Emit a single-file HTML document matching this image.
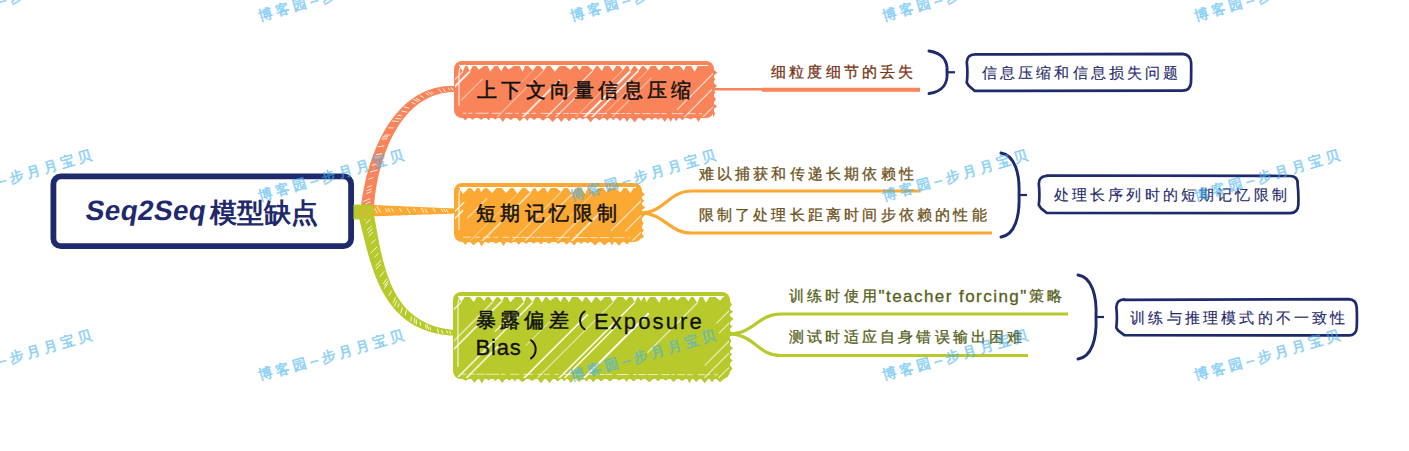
<!DOCTYPE html>
<html><head><meta charset="utf-8"><style>
html,body{margin:0;padding:0;background:#fff;width:1409px;height:451px;overflow:hidden}
#c{position:relative;width:1409px;height:451px;font-family:"Liberation Sans",sans-serif}
svg{position:absolute;left:0;top:0}
.t{position:absolute;white-space:nowrap;line-height:1.2}
.c{display:inline-block}
.wm text{font-size:14px;fill:#40b2f2;stroke:#40b2f2;stroke-width:0.55px;letter-spacing:3.8px}
</style></head><body><div id="c">
<svg width="1409" height="451" viewBox="0 0 1409 451">
<rect x="53.4" y="176.4" width="297.7" height="69.8" rx="7.5" fill="#fff" stroke="#1f2a6c" stroke-width="5.8"/>
<path d="M372.0,216.4 L373.4,216.4 L374.8,216.3 L376.2,216.3 L377.6,216.2 L378.9,216.2 L380.3,216.1 L381.7,216.1 L383.1,216.0 L384.4,216.0 L385.8,215.9 L387.1,215.9 L388.5,215.8 L389.9,215.8 L391.2,215.7 L392.6,215.7 L393.9,215.6 L395.3,215.6 L396.6,215.5 L398.0,215.5 L399.3,215.4 L400.7,215.4 L402.1,215.3 L403.4,215.3 L404.8,215.3 L406.1,215.2 L407.5,215.2 L408.9,215.1 L410.2,215.1 L411.6,215.0 L413.0,215.0 L414.4,214.9 L415.7,214.9 L417.1,214.8 L418.5,214.8 L419.9,214.7 L421.3,214.7 L422.7,214.6 L424.1,214.6 L425.5,214.6 L426.9,214.5 L428.4,214.5 L429.8,214.4 L431.2,214.4 L432.7,214.3 L434.1,214.3 L435.6,214.2 L437.1,214.2 L438.5,214.1 L440.0,214.1 L441.5,214.0 L443.0,214.0 L444.5,213.9 L446.1,213.9 L447.6,213.8 L449.1,213.8 L450.7,213.7 L452.2,213.7 L453.8,213.6 L455.4,213.6 L457.0,213.5 L457.0,208.5 L455.4,208.4 L453.8,208.4 L452.3,208.3 L450.7,208.3 L449.1,208.2 L447.6,208.2 L446.1,208.1 L444.6,208.1 L443.0,208.0 L441.5,207.9 L440.1,207.9 L438.6,207.8 L437.1,207.8 L435.6,207.7 L434.2,207.6 L432.7,207.6 L431.3,207.5 L429.8,207.5 L428.4,207.4 L427.0,207.3 L425.6,207.3 L424.1,207.2 L422.7,207.2 L421.3,207.1 L419.9,207.0 L418.6,207.0 L417.2,206.9 L415.8,206.8 L414.4,206.8 L413.0,206.7 L411.6,206.7 L410.3,206.6 L408.9,206.5 L407.5,206.5 L406.2,206.4 L404.8,206.4 L403.5,206.3 L402.1,206.2 L400.7,206.2 L399.4,206.1 L398.0,206.1 L396.7,206.0 L395.3,205.9 L394.0,205.9 L392.6,205.8 L391.3,205.7 L389.9,205.7 L388.5,205.6 L387.2,205.6 L385.8,205.5 L384.4,205.5 L383.1,205.4 L381.7,205.3 L380.3,205.3 L379.0,205.2 L377.6,205.2 L376.2,205.1 L374.8,205.1 L373.4,205.0 L372.0,205.0 Z" fill="#fba933"/><path d="M375.1,208.9 L377.3,212.8 M377.1,206.6 L380.3,212.1 M385.5,208.8 L387.4,212.1 M388.2,208.6 L390.1,211.9 M391.7,208.7 L393.5,211.9 M399.6,208.4 L401.4,211.5 M407.1,208.5 L409.8,213.1 M413.9,208.8 L415.4,211.4 M421.5,208.4 L423.7,212.2 M425.3,209.3 L427.1,212.4 M433.2,208.6 L435.1,211.9 M441.4,209.0 L442.9,211.7 M443.9,208.9 L445.4,211.5 M446.4,209.6 L447.9,212.1" stroke="#fff" stroke-width="1" fill="none" opacity="0.85" stroke-linecap="round"/>
<path d="M374.0,207.6 L374.1,205.3 L374.3,203.1 L374.5,200.7 L374.7,198.4 L375.0,196.0 L375.3,193.6 L375.7,191.1 L376.0,188.6 L376.5,186.1 L376.9,183.6 L377.4,181.0 L377.9,178.4 L378.5,175.8 L379.1,173.2 L379.8,170.6 L380.4,168.0 L381.2,165.3 L381.9,162.7 L382.8,160.1 L383.6,157.5 L384.5,154.9 L385.4,152.3 L386.4,149.7 L387.4,147.2 L388.5,144.6 L389.6,142.1 L390.8,139.6 L392.0,137.2 L393.2,134.8 L394.5,132.4 L395.9,130.1 L397.2,127.8 L398.7,125.5 L400.1,123.3 L401.7,121.2 L403.2,119.1 L404.9,117.1 L406.5,115.1 L408.2,113.2 L410.0,111.3 L411.8,109.5 L413.7,107.8 L415.6,106.2 L417.6,104.6 L419.6,103.1 L421.7,101.7 L423.8,100.4 L426.0,99.2 L428.2,98.0 L430.5,97.0 L432.8,96.0 L435.3,95.1 L437.7,94.4 L440.3,93.7 L442.9,93.1 L445.5,92.7 L448.3,92.3 L451.1,92.1 L453.9,92.0 L456.9,92.0 L457.1,86.0 L453.9,85.9 L450.8,85.9 L447.7,86.0 L444.7,86.3 L441.7,86.6 L438.8,87.2 L436.0,87.8 L433.2,88.5 L430.5,89.4 L427.8,90.3 L425.2,91.4 L422.6,92.6 L420.1,93.9 L417.6,95.2 L415.3,96.7 L412.9,98.3 L410.7,99.9 L408.5,101.6 L406.3,103.4 L404.2,105.3 L402.2,107.3 L400.2,109.3 L398.3,111.4 L396.4,113.6 L394.6,115.8 L392.8,118.0 L391.1,120.4 L389.5,122.7 L387.9,125.1 L386.3,127.6 L384.8,130.1 L383.4,132.6 L382.0,135.2 L380.6,137.8 L379.3,140.4 L378.1,143.1 L376.9,145.8 L375.7,148.4 L374.6,151.2 L373.6,153.9 L372.6,156.6 L371.6,159.3 L370.7,162.1 L369.8,164.8 L368.9,167.6 L368.1,170.3 L367.4,173.0 L366.6,175.7 L366.0,178.4 L365.3,181.1 L364.7,183.8 L364.2,186.4 L363.6,189.1 L363.2,191.7 L362.7,194.2 L362.3,196.7 L361.9,199.2 L361.6,201.7 L361.3,204.1 L361.0,206.4 Z" fill="#f9845a"/><path d="M365.7,203.9 L370.4,201.8 M363.2,201.6 L369.9,198.7 M366.8,193.4 L371.1,191.7 M367.0,190.7 L371.3,189.0 M367.6,187.2 L371.9,185.6 M368.7,179.1 L373.0,177.7 M370.4,172.0 L377.1,170.1 M372.5,165.2 L376.5,164.3 M374.1,157.8 L380.3,156.5 M376.4,154.7 L381.7,153.7 M378.2,146.7 L384.1,145.9 M382.0,139.1 L387.1,138.7 M382.7,137.0 L387.7,136.7 M384.8,135.2 L389.9,134.9 M388.7,127.8 L393.2,127.9 M392.6,121.0 L398.2,121.5 M395.7,118.4 L400.8,119.0 M397.9,115.3 L401.2,115.8 M401.8,111.0 L406.8,112.1 M404.3,106.9 L408.5,108.0 M411.7,102.5 L415.2,103.9 M413.7,99.6 L418.1,101.5 M416.1,98.5 L420.0,100.4 M420.5,95.8 L423.4,97.5 M425.9,93.0 L428.9,95.2 M427.9,91.8 L431.4,94.5 M431.1,91.9 L433.1,93.6 M438.6,89.1 L441.5,92.3 M443.1,88.7 L445.3,91.5 M448.2,87.9 L449.5,89.8 M451.1,87.4 L452.8,90.2" stroke="#fff" stroke-width="1" fill="none" opacity="0.85" stroke-linecap="round"/>
<path d="M358.4,215.6 L359.1,218.2 L359.7,220.8 L360.3,223.4 L361.0,226.0 L361.6,228.6 L362.2,231.3 L362.9,234.0 L363.6,236.6 L364.2,239.3 L364.9,242.0 L365.6,244.7 L366.3,247.4 L367.0,250.2 L367.8,252.9 L368.5,255.6 L369.3,258.3 L370.1,261.0 L371.0,263.6 L371.9,266.3 L372.8,269.0 L373.7,271.6 L374.7,274.2 L375.7,276.8 L376.8,279.4 L377.8,282.0 L379.0,284.5 L380.2,287.0 L381.4,289.4 L382.7,291.9 L384.0,294.2 L385.4,296.6 L386.9,298.9 L388.4,301.2 L390.0,303.4 L391.6,305.5 L393.3,307.6 L395.0,309.7 L396.9,311.7 L398.8,313.6 L400.8,315.5 L402.8,317.3 L404.9,319.0 L407.1,320.7 L409.4,322.3 L411.7,323.8 L414.1,325.2 L416.6,326.6 L419.2,327.8 L421.9,329.0 L424.6,330.1 L427.5,331.1 L430.4,332.0 L433.4,332.8 L436.5,333.5 L439.6,334.1 L442.9,334.7 L446.2,335.1 L449.7,335.4 L453.2,335.6 L456.8,335.7 L457.2,330.3 L453.6,330.0 L450.3,329.6 L447.0,329.1 L443.9,328.6 L440.9,327.9 L438.0,327.2 L435.2,326.4 L432.5,325.5 L429.8,324.5 L427.3,323.4 L424.9,322.3 L422.6,321.1 L420.3,319.8 L418.2,318.5 L416.1,317.1 L414.1,315.6 L412.2,314.1 L410.4,312.5 L408.6,310.9 L406.9,309.2 L405.3,307.4 L403.7,305.6 L402.2,303.7 L400.8,301.8 L399.4,299.8 L398.1,297.8 L396.8,295.7 L395.6,293.6 L394.4,291.5 L393.3,289.3 L392.2,287.0 L391.2,284.8 L390.2,282.4 L389.3,280.1 L388.4,277.7 L387.5,275.3 L386.7,272.8 L385.9,270.3 L385.1,267.8 L384.4,265.3 L383.7,262.8 L383.0,260.2 L382.4,257.6 L381.7,255.0 L381.1,252.3 L380.5,249.7 L380.0,247.0 L379.4,244.4 L378.9,241.7 L378.4,239.0 L377.9,236.4 L377.4,233.7 L376.9,231.0 L376.4,228.3 L376.0,225.6 L375.5,222.9 L375.0,220.3 L374.5,217.6 L374.1,215.0 L373.6,212.4 Z" fill="#b7c92b"/><path d="M368.9,215.9 L364.4,220.0 M372.5,217.3 L366.1,223.2 M371.3,226.3 L367.3,229.9 M372.3,229.0 L368.2,232.7 M372.9,232.3 L368.9,235.9 M375.2,239.8 L371.3,243.4 M376.8,247.1 L371.0,252.8 M378.1,253.6 L374.8,256.9 M380.9,260.5 L375.9,265.9 M380.6,264.3 L376.4,268.9 M384.3,271.3 L380.0,276.5 M386.7,279.0 L383.3,283.7 M387.8,281.1 L384.6,285.7 M387.7,283.7 L384.5,288.4 M391.5,291.0 L389.0,295.2 M395.6,297.3 L393.1,302.8 M396.8,300.8 L394.6,305.9 M399.2,303.8 L397.9,307.1 M402.3,307.8 L400.8,313.0 M406.3,310.4 L405.3,314.9 M411.3,317.0 L410.9,320.8 M414.5,317.9 L414.3,322.8 M416.3,319.7 L416.3,324.1 M420.3,322.0 L420.5,325.4 M425.7,324.6 L426.2,328.3 M427.5,325.1 L428.3,329.4 M430.0,327.3 L430.5,329.8 M437.4,329.0 L438.6,332.9 M441.6,330.3 L442.8,333.5 M446.7,331.0 L447.6,333.0 M449.5,331.0 L450.8,333.8" stroke="#fff" stroke-width="1" fill="none" opacity="0.85" stroke-linecap="round"/>
<rect x="353.5" y="204.6" width="19.5" height="14.8" fill="#b7c92b"/>
<path d="M358,214 L363,209 M362,216 L368,210 M366,217 L371,212" stroke="#fba933" stroke-width="1.3" opacity="0.8"/>
<clipPath id="clip1"><rect x="455" y="62" width="258" height="55" rx="8"/></clipPath>
<rect x="454" y="61" width="260" height="57" rx="8" fill="#f9845a"/>
<g clip-path="url(#clip1)" stroke="#fff" stroke-linecap="butt" fill="none">
<line x1="459" y1="65.5" x2="708" y2="65.5" stroke-width="1.2"/>
<path d="M459,106 L459,73 Q459,65 466,65" stroke-width="1.1" opacity="0.9"/>
<line x1="462.9" y1="71.6" x2="419.0" y2="115.5" stroke-width="1.5" opacity="0.60"/>
<line x1="469.9" y1="71.4" x2="401.5" y2="139.8" stroke-width="1.9" opacity="0.95"/>
<line x1="482.5" y1="79.0" x2="461.1" y2="100.3" stroke-width="1.3" opacity="0.45"/>
<line x1="532.8" y1="70.8" x2="512.6" y2="91.1" stroke-width="0.9" opacity="0.45"/>
<line x1="543.7" y1="70.4" x2="475.3" y2="138.8" stroke-width="1.2" opacity="0.45"/>
<line x1="560.0" y1="79.9" x2="501.7" y2="138.2" stroke-width="1.9" opacity="0.80"/>
<line x1="593.0" y1="70.6" x2="524.6" y2="139.0" stroke-width="1.2" opacity="0.80"/>
<line x1="589.9" y1="83.0" x2="533.5" y2="139.4" stroke-width="1.5" opacity="0.60"/>
<line x1="622.9" y1="69.9" x2="554.5" y2="138.3" stroke-width="0.9" opacity="0.60"/>
<line x1="630.3" y1="71.2" x2="561.9" y2="139.6" stroke-width="2.0" opacity="0.95"/>
<line x1="638.6" y1="70.5" x2="570.2" y2="138.9" stroke-width="1.6" opacity="0.95"/>
<line x1="647.9" y1="70.3" x2="579.5" y2="138.7" stroke-width="1.0" opacity="0.45"/>
<line x1="651.6" y1="77.7" x2="609.6" y2="119.7" stroke-width="1.2" opacity="0.45"/>
<line x1="714.0" y1="72.7" x2="677.0" y2="109.8" stroke-width="1.2" opacity="0.7"/>
<line x1="714.0" y1="87.3" x2="679.2" y2="122.2" stroke-width="1.2" opacity="0.7"/>
<line x1="714.0" y1="106.0" x2="680.6" y2="139.4" stroke-width="1.2" opacity="0.7"/>
</g>
<path fill="#fff" d="M459.0,65 L465.7,65 L462.9,71.6 Z M466.7,65 L473.3,65 L469.9,71.4 Z M475.3,65 L485.2,65 L478.8,69.7 Z M487.2,65 L495.4,65 L490.1,71.4 Z M497.4,65 L504.7,65 L501.2,71.5 Z M504.7,65 L515.2,65 L508.5,69.6 Z M519.2,65 L525.3,65 L522.6,71.7 Z M527.3,65 L536.9,65 L532.8,70.8 Z M538.9,65 L547.6,65 L543.7,70.4 Z M549.6,65 L560.4,65 L554.8,71.8 Z M564.4,65 L575.0,65 L570.1,69.8 Z M576.0,65 L582.6,65 L579.8,70.3 Z M586.6,65 L597.3,65 L593.0,70.6 Z M597.3,65 L604.8,65 L601.9,71.0 Z M608.8,65 L616.8,65 L612.8,71.6 Z M618.8,65 L626.9,65 L622.9,69.9 Z M627.9,65 L634.3,65 L630.3,71.2 Z M634.3,65 L642.9,65 L638.6,70.5 Z M642.9,65 L651.2,65 L647.9,70.3 Z M655.2,65 L664.2,65 L658.8,70.5 Z M668.2,65 L675.3,65 L671.1,69.5 Z M679.3,65 L686.5,65 L683.9,70.8 Z M690.5,65 L698.3,65 L694.8,71.8 Z"/>
<path d="M462,62.8 L706,62.8" stroke="#f9845a" stroke-width="3.6" fill="none"/>
<path d="M463,113.2 L702,113.7" stroke="#fff" stroke-width="0.9" stroke-dasharray="3.4 1.8 4.1 3.3 12.9 3.4 8.4 4.8 7.3 3.0 3.2 3.4 7.4 2.1 4.7 4.4 11.9 3.3 4.5 2.7 5.9 1.4 7.2 3.2 13.1 4.4 8.9 4.1 8.9 1.3 3.4 1.5 4.8 3.2 5.9 2.3 8.6 2.0 6.7 1.5 5.6 4.8 11.6 3.9 8.4 3.3 11.5 2.3 7.5 2.5 13.9 1.6 4.4 1.5 9.5 4.7 3.8 3.2 9.2 4.8" opacity="0.75"/>
<polygon fill="#f9845a" points="462.0,117.0 465.4,120.4 468.8,117.0 472.7,119.8 476.5,117.0 481.2,119.8 486.0,117.0 488.6,120.4 491.2,117.0 495.2,119.5 499.3,117.0 502.8,122.0 506.3,117.0 510.8,120.1 515.3,117.0 519.8,121.3 524.2,117.0 527.1,120.9 530.0,117.0 534.2,120.0 538.4,117.0 543.0,120.8 547.7,117.0 552.6,121.9 557.5,117.0 561.3,122.0 565.2,117.0 569.1,121.6 573.0,117.0 576.2,120.1 579.5,117.0 582.8,119.6 586.1,117.0 590.6,122.3 595.0,117.0 599.4,120.5 603.7,117.0 607.2,120.7 610.6,117.0 613.3,120.5 616.0,117.0 620.0,120.9 624.0,117.0 627.1,121.9 630.2,117.0 634.7,122.2 639.1,117.0 643.8,120.9 648.4,117.0 651.8,120.0 655.2,117.0 658.2,120.1 661.3,117.0 664.7,122.0 668.1,117.0 670.8,121.8 673.5,117.0 676.2,121.2 679.0,117.0 682.3,120.2 685.7,117.0 690.6,119.6 695.5,117.0 698.5,121.9 701.4,117.0"/>
<polygon fill="#f9845a" points="713.0,69.0 717.3,72.7 713.0,76.3 715.3,79.3 713.0,82.3 717.0,86.0 713.0,89.7 715.6,92.4 713.0,95.1 716.0,99.2 713.0,103.3 717.2,106.4 713.0,109.4 715.1,113.4 713.0,117.3"/>
<clipPath id="clip2"><rect x="455" y="184" width="186" height="57" rx="8"/></clipPath>
<rect x="454" y="183" width="188" height="59" rx="8" fill="#fba933"/>
<g clip-path="url(#clip2)" stroke="#fff" stroke-linecap="butt" fill="none">
<line x1="459" y1="187.5" x2="636" y2="187.5" stroke-width="1.2"/>
<path d="M459,230 L459,195 Q459,187 466,187" stroke-width="1.1" opacity="0.9"/>
<line x1="464.2" y1="202.2" x2="445.2" y2="221.1" stroke-width="1.2" opacity="0.95"/>
<line x1="463.2" y1="210.1" x2="429.6" y2="243.6" stroke-width="1.5" opacity="0.95"/>
<line x1="487.1" y1="198.4" x2="467.3" y2="218.2" stroke-width="1.6" opacity="0.45"/>
<line x1="517.4" y1="193.7" x2="446.6" y2="264.5" stroke-width="1.0" opacity="0.45"/>
<line x1="530.6" y1="192.6" x2="459.8" y2="263.4" stroke-width="1.8" opacity="0.60"/>
<line x1="561.1" y1="192.0" x2="490.3" y2="262.8" stroke-width="1.1" opacity="0.45"/>
<line x1="572.3" y1="193.8" x2="501.5" y2="264.6" stroke-width="1.3" opacity="0.60"/>
<line x1="591.8" y1="194.9" x2="570.1" y2="216.7" stroke-width="0.9" opacity="0.60"/>
<line x1="579.5" y1="219.2" x2="535.7" y2="263.0" stroke-width="1.7" opacity="0.45"/>
<line x1="603.8" y1="209.0" x2="549.6" y2="263.2" stroke-width="1.7" opacity="0.80"/>
<line x1="642.0" y1="199.9" x2="610.8" y2="231.1" stroke-width="1.2" opacity="0.7"/>
<line x1="642.0" y1="214.6" x2="625.2" y2="231.4" stroke-width="1.2" opacity="0.7"/>
<line x1="642.0" y1="231.2" x2="622.5" y2="250.7" stroke-width="1.2" opacity="0.7"/>
</g>
<path fill="#fff" d="M459.0,187 L469.8,187 L463.0,193.9 Z M469.8,187 L477.6,187 L474.4,191.9 Z M478.6,187 L485.8,187 L481.2,192.0 Z M485.8,187 L496.8,187 L492.3,193.1 Z M500.8,187 L511.6,187 L506.0,192.9 Z M512.6,187 L523.1,187 L517.4,193.7 Z M524.1,187 L534.6,187 L530.6,192.6 Z M534.6,187 L543.4,187 L537.8,192.1 Z M544.4,187 L551.3,187 L547.6,192.8 Z M555.3,187 L564.7,187 L561.1,192.0 Z M566.7,187 L576.3,187 L572.3,193.8 Z M580.3,187 L588.1,187 L585.3,194.0 Z M588.1,187 L598.9,187 L594.3,192.5 Z M602.9,187 L610.1,187 L606.5,192.2 Z M614.1,187 L624.3,187 L620.4,192.4 Z M626.3,187 L634.1,187 L630.3,193.3 Z"/>
<path d="M462,184.8 L634,184.8" stroke="#fba933" stroke-width="3.6" fill="none"/>
<path d="M463,237.2 L630,237.7" stroke="#fff" stroke-width="0.9" stroke-dasharray="7.9 4.5 4.4 3.3 7.3 3.1 4.6 4.8 5.9 3.4 7.6 1.1 9.1 1.6 3.6 1.1 4.8 1.4 10.0 3.0 13.8 4.7 13.9 1.9 7.9 2.0 9.5 3.5 11.8 3.8 5.8 2.7 8.8 1.0 3.4 2.6 4.2 3.9 5.6 1.4 5.0 1.9 5.4 3.1 8.1 2.2 10.1 1.8 13.0 4.9 11.0 2.7 8.6 3.3 3.6 2.7 8.8 1.7 4.0 4.2" opacity="0.75"/>
<polygon fill="#fba933" points="462.0,241.0 465.4,245.1 468.8,241.0 473.6,245.3 478.4,241.0 481.7,246.5 484.9,241.0 488.3,243.6 491.7,241.0 496.0,243.8 500.2,241.0 503.4,246.0 506.7,241.0 510.9,243.5 515.1,241.0 518.7,244.7 522.3,241.0 526.0,244.1 529.8,241.0 533.7,243.7 537.7,241.0 540.9,244.6 544.1,241.0 549.0,243.7 553.8,241.0 558.2,244.1 562.6,241.0 566.5,244.7 570.4,241.0 574.1,245.8 577.7,241.0 581.2,243.9 584.7,241.0 587.5,243.7 590.3,241.0 595.0,245.4 599.6,241.0 604.5,245.6 609.4,241.0 611.9,245.5 614.5,241.0 618.9,245.7 623.4,241.0 627.1,244.6 630.9,241.0"/>
<polygon fill="#fba933" points="641.0,191.0 645.0,194.4 641.0,197.8 644.3,200.9 641.0,203.9 645.4,207.4 641.0,210.8 645.3,214.9 641.0,219.0 643.7,223.2 641.0,227.4 644.2,230.3 641.0,233.3 644.1,236.3 641.0,239.3"/>
<clipPath id="clip3"><rect x="454" y="293" width="275" height="85" rx="8"/></clipPath>
<rect x="453" y="292" width="277" height="87" rx="8" fill="#b7c92b"/>
<g clip-path="url(#clip3)" stroke="#fff" stroke-linecap="butt" fill="none">
<line x1="458" y1="296.5" x2="724" y2="296.5" stroke-width="1.2"/>
<path d="M458,367 L458,304 Q458,296 465,296" stroke-width="1.1" opacity="0.9"/>
<line x1="461.3" y1="301.9" x2="402.1" y2="361.1" stroke-width="1.4" opacity="0.80"/>
<line x1="492.9" y1="301.9" x2="445.2" y2="349.6" stroke-width="1.6" opacity="0.60"/>
<line x1="502.1" y1="300.9" x2="397.7" y2="405.3" stroke-width="1.6" opacity="0.80"/>
<line x1="524.1" y1="302.5" x2="494.9" y2="331.7" stroke-width="1.2" opacity="0.95"/>
<line x1="532.8" y1="302.3" x2="428.4" y2="406.7" stroke-width="1.7" opacity="0.80"/>
<line x1="501.0" y1="343.4" x2="437.5" y2="406.9" stroke-width="1.7" opacity="0.80"/>
<line x1="558.9" y1="312.5" x2="525.7" y2="345.8" stroke-width="1.0" opacity="0.80"/>
<line x1="587.9" y1="314.3" x2="496.4" y2="405.7" stroke-width="1.6" opacity="0.95"/>
<line x1="613.1" y1="302.3" x2="508.7" y2="406.7" stroke-width="1.2" opacity="0.60"/>
<line x1="634.7" y1="302.5" x2="530.3" y2="406.9" stroke-width="1.5" opacity="0.95"/>
<line x1="616.0" y1="326.6" x2="536.6" y2="406.0" stroke-width="1.4" opacity="0.95"/>
<line x1="648.8" y1="313.3" x2="554.9" y2="407.1" stroke-width="2.0" opacity="0.95"/>
<line x1="697.4" y1="302.9" x2="647.5" y2="352.8" stroke-width="1.5" opacity="0.60"/>
<line x1="730.0" y1="309.8" x2="716.4" y2="323.4" stroke-width="1.2" opacity="0.7"/>
<line x1="730.0" y1="322.2" x2="718.9" y2="333.3" stroke-width="1.2" opacity="0.7"/>
<line x1="730.0" y1="340.2" x2="704.6" y2="365.6" stroke-width="1.2" opacity="0.7"/>
<line x1="730.0" y1="352.2" x2="693.5" y2="388.7" stroke-width="1.2" opacity="0.7"/>
<line x1="730.0" y1="366.5" x2="718.5" y2="378.0" stroke-width="1.2" opacity="0.7"/>
</g>
<path fill="#fff" d="M458.0,296 L465.2,296 L461.3,301.9 Z M469.2,296 L477.6,296 L473.6,302.0 Z M479.6,296 L486.9,296 L484.3,301.1 Z M488.9,296 L497.6,296 L492.9,301.9 Z M497.6,296 L504.7,296 L502.1,300.9 Z M506.7,296 L516.4,296 L510.3,302.2 Z M520.4,296 L526.6,296 L524.1,302.5 Z M527.6,296 L536.0,296 L532.8,302.3 Z M538.0,296 L546.0,296 L541.9,302.5 Z M546.0,296 L556.4,296 L550.0,300.7 Z M556.4,296 L563.7,296 L560.6,302.2 Z M564.7,296 L572.8,296 L568.9,302.6 Z M576.8,296 L585.7,296 L582.3,302.0 Z M585.7,296 L596.0,296 L591.4,303.0 Z M596.0,296 L605.5,296 L600.8,301.3 Z M609.5,296 L618.3,296 L613.1,302.3 Z M622.3,296 L629.7,296 L625.9,300.8 Z M631.7,296 L638.1,296 L634.7,302.5 Z M638.1,296 L644.2,296 L641.0,301.6 Z M644.2,296 L650.4,296 L646.5,302.0 Z M654.4,296 L662.1,296 L659.3,302.7 Z M666.1,296 L673.3,296 L668.6,300.6 Z M673.3,296 L682.2,296 L676.9,300.6 Z M684.2,296 L691.7,296 L688.4,301.2 Z M692.7,296 L700.3,296 L697.4,302.9 Z M702.3,296 L710.2,296 L705.9,302.7 Z M714.2,296 L723.6,296 L720.2,300.8 Z"/>
<path d="M461,293.8 L722,293.8" stroke="#b7c92b" stroke-width="3.6" fill="none"/>
<path d="M462,374.2 L718,374.7" stroke="#fff" stroke-width="0.9" stroke-dasharray="4.3 3.0 5.6 1.1 8.9 1.2 13.0 1.5 4.4 4.9 9.0 4.2 3.7 1.9 4.3 4.6 4.3 2.0 6.0 4.6 4.4 4.7 8.4 3.3 7.4 4.0 5.7 3.5 8.7 1.2 6.6 4.3 12.4 4.1 3.5 1.2 8.3 1.1 10.8 3.1 8.4 1.6 3.8 2.5 7.3 2.2 5.9 5.0 7.7 1.5 3.0 3.9 11.7 3.3 3.5 2.8 10.2 3.2 10.0 1.2" opacity="0.75"/>
<polygon fill="#b7c92b" points="461.0,378.0 465.7,380.7 470.4,378.0 474.5,382.8 478.6,378.0 481.9,383.4 485.1,378.0 488.7,380.6 492.2,378.0 495.3,381.3 498.3,378.0 502.3,382.9 506.3,378.0 509.3,380.9 512.4,378.0 515.0,381.5 517.5,378.0 522.5,382.2 527.4,378.0 532.1,380.9 536.7,378.0 541.0,383.3 545.2,378.0 549.5,383.0 553.8,378.0 557.7,381.6 561.5,378.0 564.3,381.5 567.0,378.0 570.9,382.9 574.7,378.0 579.0,381.9 583.3,378.0 586.4,381.7 589.5,378.0 593.3,382.2 597.1,378.0 601.2,381.6 605.4,378.0 609.9,381.5 614.5,378.0 619.1,380.6 623.8,378.0 626.5,381.9 629.3,378.0 633.6,381.4 637.8,378.0 641.1,380.8 644.3,378.0 649.3,382.2 654.3,378.0 658.1,381.2 661.9,378.0 665.8,380.8 669.7,378.0 673.6,382.2 677.5,378.0 682.1,381.0 686.8,378.0 689.5,383.5 692.2,378.0 696.3,381.9 700.4,378.0 704.7,383.3 708.9,378.0 712.1,382.3 715.2,378.0 720.1,382.2 724.9,378.0"/>
<polygon fill="#b7c92b" points="729.0,300.0 731.9,304.4 729.0,308.9 733.3,311.8 729.0,314.8 733.4,319.0 729.0,323.2 732.4,326.5 729.0,329.8 733.3,333.5 729.0,337.2 731.4,341.0 729.0,344.9 733.2,348.2 729.0,351.5 732.2,354.3 729.0,357.2 732.7,360.6 729.0,364.1 732.5,368.5 729.0,372.9"/>
<path d="M584.6,311.5 C578.6,316 578.6,325 584.6,329.3 M531,340.3 C537.2,345 537.2,354 531,358.4" stroke="#111" stroke-width="2" fill="none" stroke-linecap="round"/>
<path d="M712,89.3 L765,89.3" stroke="#f9845a" stroke-width="2.5"/>
<path d="M762,89.8 L920,89.8" stroke="#f9845a" stroke-width="4"/>
<path d="M640,213 C665,213 668,191 692,191 L920,191" stroke="#fba933" stroke-width="3.2" fill="none"/>
<path d="M640,213 C665,213 668,233 692,233 L992,233" stroke="#fba933" stroke-width="3.2" fill="none"/>
<path d="M728,334 C755,334 757,314 781,314 L1068,314" stroke="#b7c92b" stroke-width="3.2" fill="none"/>
<path d="M728,334 C755,334 757,355.5 781,355.5 L1028,355.5" stroke="#b7c92b" stroke-width="3.2" fill="none"/>
<path d="M929,51 C943,53 948,61.625 947,72.25 C948,82.875 943,91.5 929,93.5" stroke="#1f2a6c" stroke-width="2.9" fill="none" stroke-linecap="round"/><path d="M947,72.25 L955,72.25" stroke="#1f2a6c" stroke-width="2.2"/>
<path d="M1001,153 C1015,155 1020,174.0 1019,195.0 C1020,216.0 1015,235 1001,237" stroke="#1f2a6c" stroke-width="2.9" fill="none" stroke-linecap="round"/><path d="M1019,195.0 L1027,195.0" stroke="#1f2a6c" stroke-width="2.2"/>
<path d="M1078,275 C1092,277 1097,296.0 1096,317.0 C1097,338.0 1092,357 1078,359" stroke="#1f2a6c" stroke-width="2.9" fill="none" stroke-linecap="round"/><path d="M1096,317.0 L1104,317.0" stroke="#1f2a6c" stroke-width="2.2"/>
<path d="M974.8,54.4 L1182.5,53.9 C1187.5,54.3 1190.5,57.3 1191.1,62.3 Q1191.3,72.5 1191.0,82.7 C1190.5,87.7 1187.5,90.7 1182.5,90.7 L974.8,90.9 L968.8,85.7 L966.8,82.7 Q968.0,72.5 966.8,62.3 C966.8,57.3 969.8,54.3 974.8,54.3 Z" fill="#fff" stroke="#1f2a6c" stroke-width="2.7" stroke-linejoin="round"/>
<path d="M1046.8,175.5 L1290,176.0 C1295,175.9 1298,178.9 1297.6,183.9 Q1298.8,194.5 1298.3,205.1 C1298,210.1 1295,213.1 1290,213.2 L1046.8,213.0 L1040.8,208.1 L1038.8,205.1 Q1040.0,194.5 1038.8,183.9 C1038.8,178.9 1041.8,175.9 1046.8,175.9 Z" fill="#fff" stroke="#1f2a6c" stroke-width="2.7" stroke-linejoin="round"/>
<path d="M1124.3,299.9 L1348.4,299.2 C1353.4,299.3 1356.4,302.3 1356.7,307.3 Q1357.2,317.5 1356.7,327.7 C1356.4,332.7 1353.4,335.7 1348.4,335.4 L1124.3,335.2 L1118.3,330.7 L1116.3,327.7 Q1117.5,317.5 1116.3,307.3 C1116.3,302.3 1119.3,299.3 1124.3,299.3 Z" fill="#fff" stroke="#1f2a6c" stroke-width="2.7" stroke-linejoin="round"/>
</svg>
<div class="t" style="left:86px;top:194px;font-size:27px;color:#1f2a6c;font-weight:bold"><span style="display:inline-block;transform:skewX(-9deg);letter-spacing:0.3px;font-size:28px">Seq2Seq</span></div>
<div class="t" style="left:209.5px;top:196.5px;font-size:27px;color:#1f2a6c;font-weight:bold;"><span class="c" style="width:27.00px">模</span><span class="c" style="width:27.00px">型</span><span class="c" style="width:27.00px">缺</span><span class="c" style="width:27.00px">点</span></div>
<div class="t" style="left:477px;top:78px;font-size:20px;color:#111;-webkit-text-stroke:0.5px #111"><span class="c" style="width:24.30px">上</span><span class="c" style="width:24.30px">下</span><span class="c" style="width:24.30px">文</span><span class="c" style="width:24.30px">向</span><span class="c" style="width:24.30px">量</span><span class="c" style="width:24.30px">信</span><span class="c" style="width:24.30px">息</span><span class="c" style="width:24.30px">压</span><span class="c" style="width:24.30px">缩</span></div>
<div class="t" style="left:476px;top:201px;font-size:20px;color:#111;-webkit-text-stroke:0.5px #111"><span class="c" style="width:24.30px">短</span><span class="c" style="width:24.30px">期</span><span class="c" style="width:24.30px">记</span><span class="c" style="width:24.30px">忆</span><span class="c" style="width:24.30px">限</span><span class="c" style="width:24.30px">制</span></div>
<div class="t" style="left:476px;top:308px;font-size:20px;color:#111;-webkit-text-stroke:0.5px #111"><span class="c" style="width:24.20px">暴</span><span class="c" style="width:24.20px">露</span><span class="c" style="width:24.20px">偏</span><span class="c" style="width:24.20px">差</span></div>
<div class="t" style="left:594px;top:308.5px;font-size:22px;color:#111;letter-spacing:2.1px;-webkit-text-stroke:0.3px #111">Exposure</div>
<div class="t" style="left:475.5px;top:334.5px;font-size:22px;color:#111;letter-spacing:0.8px;-webkit-text-stroke:0.3px #111">Bias</div>
<div class="t" style="left:771px;top:63px;font-size:15px;color:#7a3314;-webkit-text-stroke:0.3px #7a3314"><span class="c" style="width:18.20px">细</span><span class="c" style="width:18.20px">粒</span><span class="c" style="width:18.20px">度</span><span class="c" style="width:18.20px">细</span><span class="c" style="width:18.20px">节</span><span class="c" style="width:18.20px">的</span><span class="c" style="width:18.20px">丢</span><span class="c" style="width:18.20px">失</span></div>
<div class="t" style="left:698.7px;top:164.5px;font-size:15px;color:#6e5220;-webkit-text-stroke:0.3px #6e5220"><span class="c" style="width:18.20px">难</span><span class="c" style="width:18.20px">以</span><span class="c" style="width:18.20px">捕</span><span class="c" style="width:18.20px">获</span><span class="c" style="width:18.20px">和</span><span class="c" style="width:18.20px">传</span><span class="c" style="width:18.20px">递</span><span class="c" style="width:18.20px">长</span><span class="c" style="width:18.20px">期</span><span class="c" style="width:18.20px">依</span><span class="c" style="width:18.20px">赖</span><span class="c" style="width:18.20px">性</span></div>
<div class="t" style="left:698.7px;top:206px;font-size:15px;color:#6e5220;-webkit-text-stroke:0.3px #6e5220"><span class="c" style="width:18.20px">限</span><span class="c" style="width:18.20px">制</span><span class="c" style="width:18.20px">了</span><span class="c" style="width:18.20px">处</span><span class="c" style="width:18.20px">理</span><span class="c" style="width:18.20px">长</span><span class="c" style="width:18.20px">距</span><span class="c" style="width:18.20px">离</span><span class="c" style="width:18.20px">时</span><span class="c" style="width:18.20px">间</span><span class="c" style="width:18.20px">步</span><span class="c" style="width:18.20px">依</span><span class="c" style="width:18.20px">赖</span><span class="c" style="width:18.20px">的</span><span class="c" style="width:18.20px">性</span><span class="c" style="width:18.20px">能</span></div>
<div class="t" style="left:789px;top:286.5px;font-size:15px;color:#56601a;-webkit-text-stroke:0.3px #56601a"><span class="c" style="width:18.20px">训</span><span class="c" style="width:18.20px">练</span><span class="c" style="width:18.20px">时</span><span class="c" style="width:18.20px">使</span><span class="c" style="width:18.20px">用</span></div>
<div class="t" style="left:878.5px;top:287px;font-size:17px;color:#56601a;letter-spacing:1.45px;-webkit-text-stroke:0.3px #56601a">"teacher forcing"</div>
<div class="t" style="left:1028.5px;top:286.5px;font-size:15px;color:#56601a;-webkit-text-stroke:0.3px #56601a"><span class="c" style="width:18.20px">策</span><span class="c" style="width:18.20px">略</span></div>
<div class="t" style="left:789px;top:328px;font-size:15px;color:#56601a;-webkit-text-stroke:0.3px #56601a"><span class="c" style="width:18.20px">测</span><span class="c" style="width:18.20px">试</span><span class="c" style="width:18.20px">时</span><span class="c" style="width:18.20px">适</span><span class="c" style="width:18.20px">应</span><span class="c" style="width:18.20px">自</span><span class="c" style="width:18.20px">身</span><span class="c" style="width:18.20px">错</span><span class="c" style="width:18.20px">误</span><span class="c" style="width:18.20px">输</span><span class="c" style="width:18.20px">出</span><span class="c" style="width:18.20px">困</span><span class="c" style="width:18.20px">难</span></div>
<div class="t" style="left:981.6px;top:64px;font-size:15px;color:#1f2a6c;-webkit-text-stroke:0.15px #1f2a6c"><span class="c" style="width:18.20px">信</span><span class="c" style="width:18.20px">息</span><span class="c" style="width:18.20px">压</span><span class="c" style="width:18.20px">缩</span><span class="c" style="width:18.20px">和</span><span class="c" style="width:18.20px">信</span><span class="c" style="width:18.20px">息</span><span class="c" style="width:18.20px">损</span><span class="c" style="width:18.20px">失</span><span class="c" style="width:18.20px">问</span><span class="c" style="width:18.20px">题</span></div>
<div class="t" style="left:1053.6px;top:186px;font-size:15px;color:#1f2a6c;-webkit-text-stroke:0.15px #1f2a6c"><span class="c" style="width:18.20px">处</span><span class="c" style="width:18.20px">理</span><span class="c" style="width:18.20px">长</span><span class="c" style="width:18.20px">序</span><span class="c" style="width:18.20px">列</span><span class="c" style="width:18.20px">时</span><span class="c" style="width:18.20px">的</span><span class="c" style="width:18.20px">短</span><span class="c" style="width:18.20px">期</span><span class="c" style="width:18.20px">记</span><span class="c" style="width:18.20px">忆</span><span class="c" style="width:18.20px">限</span><span class="c" style="width:18.20px">制</span></div>
<div class="t" style="left:1130.3px;top:308.5px;font-size:15px;color:#1f2a6c;-webkit-text-stroke:0.15px #1f2a6c"><span class="c" style="width:18.20px">训</span><span class="c" style="width:18.20px">练</span><span class="c" style="width:18.20px">与</span><span class="c" style="width:18.20px">推</span><span class="c" style="width:18.20px">理</span><span class="c" style="width:18.20px">模</span><span class="c" style="width:18.20px">式</span><span class="c" style="width:18.20px">的</span><span class="c" style="width:18.20px">不</span><span class="c" style="width:18.20px">一</span><span class="c" style="width:18.20px">致</span><span class="c" style="width:18.20px">性</span></div>
<svg class="wm" width="1409" height="451" viewBox="0 0 1409 451" style="opacity:0.6">
<text x="-52" y="20.5" transform="rotate(-15.8 -52 20.5)">博客园–步月月宝贝</text>
<text x="260" y="20.5" transform="rotate(-15.8 260 20.5)">博客园–步月月宝贝</text>
<text x="572" y="20.5" transform="rotate(-15.8 572 20.5)">博客园–步月月宝贝</text>
<text x="884" y="20.5" transform="rotate(-15.8 884 20.5)">博客园–步月月宝贝</text>
<text x="1196" y="20.5" transform="rotate(-15.8 1196 20.5)">博客园–步月月宝贝</text>
<text x="-52" y="200.5" transform="rotate(-15.8 -52 200.5)">博客园–步月月宝贝</text>
<text x="260" y="200.5" transform="rotate(-15.8 260 200.5)">博客园–步月月宝贝</text>
<text x="572" y="200.5" transform="rotate(-15.8 572 200.5)">博客园–步月月宝贝</text>
<text x="884" y="200.5" transform="rotate(-15.8 884 200.5)">博客园–步月月宝贝</text>
<text x="1196" y="200.5" transform="rotate(-15.8 1196 200.5)">博客园–步月月宝贝</text>
<text x="-52" y="380.5" transform="rotate(-15.8 -52 380.5)">博客园–步月月宝贝</text>
<text x="260" y="380.5" transform="rotate(-15.8 260 380.5)">博客园–步月月宝贝</text>
<text x="572" y="380.5" transform="rotate(-15.8 572 380.5)">博客园–步月月宝贝</text>
<text x="884" y="380.5" transform="rotate(-15.8 884 380.5)">博客园–步月月宝贝</text>
<text x="1196" y="380.5" transform="rotate(-15.8 1196 380.5)">博客园–步月月宝贝</text>
</svg>
</div></body></html>
